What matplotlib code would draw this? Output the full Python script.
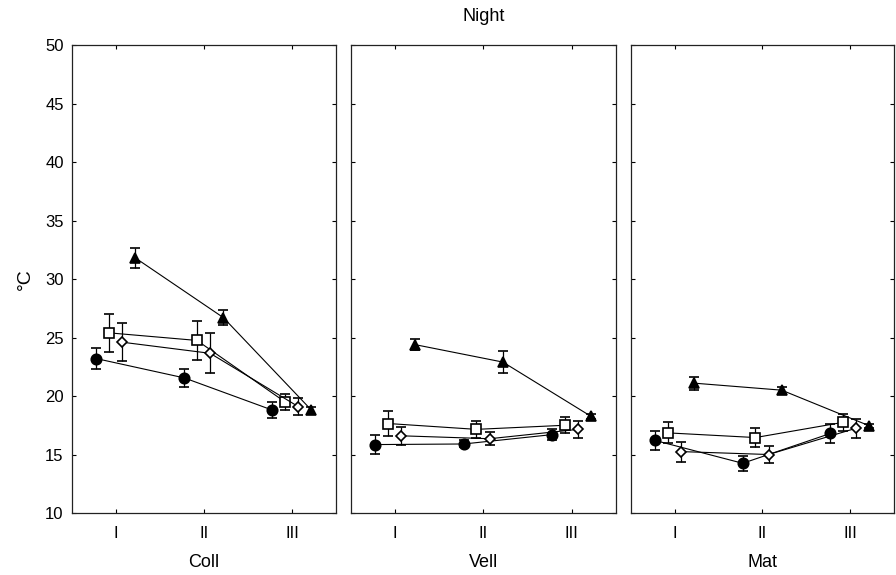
import numpy as np
import matplotlib
matplotlib.use('Agg')
import matplotlib.pyplot as plt

plt.rcParams['font.family'] = ['Liberation Sans', 'DejaVu Sans']

# sites (panels) and periods (x categories)
sites = ['Coll', 'Vell', 'Mat']
periods = ['I', 'II', 'III']

# mean temperature (°C) per series, one list per site
circle_mean = [[23.2, 21.55, 18.8], [15.85, 15.9, 16.7], [16.2, 14.25, 16.8]]
circle_err = [[0.9, 0.75, 0.65], [0.8, 0.3, 0.5], [0.85, 0.65, 0.8]]

square_mean = [[25.4, 24.75, 19.5], [17.65, 17.15, 17.5], [16.85, 16.45, 17.75]]
square_err = [[1.65, 1.7, 0.7], [1.05, 0.75, 0.7], [0.9, 0.85, 0.7]]

diamond_mean = [[24.6, 23.65, 19.1], [16.6, 16.35, 17.15], [15.25, 15.0, 17.25]]
diamond_err = [[1.6, 1.7, 0.75], [0.75, 0.55, 0.7], [0.85, 0.75, 0.8]]

triangle_mean = [[31.8, 26.7, 18.8], [24.4, 22.9, 18.25], [21.1, 20.5, 17.45]]
triangle_err = [[0.85, 0.65, 0.3], [0.45, 0.95, 0.25], [0.55, 0.3, 0.2]]

series = [
    (circle_mean, circle_err, 'o', 'black', 7.5, -0.225),
    (square_mean, square_err, 's', 'white', 7.0, -0.08),
    (diamond_mean, diamond_err, 'D', 'white', 5.5, 0.07),
    (triangle_mean, triangle_err, '^', 'black', 7.5, 0.22),
]

fig = plt.figure(figsize=(8.96, 5.75), dpi=100)
lefts = [0.0804, 0.3917, 0.7042]
widths = [0.2946, 0.2958, 0.2935]
bottom, height = 0.1078, 0.8139

x = np.arange(1, len(periods) + 1)
axes = []
for i, site in enumerate(sites):
    ax = fig.add_axes([lefts[i], bottom, widths[i], height])
    axes.append(ax)
    for mean, err, mk, fc, ms, off in series:
        ax.errorbar(x + off, mean[i], yerr=err[i], fmt='-', color='black',
                    lw=0.8, elinewidth=0.9, capsize=3.5, capthick=0.9,
                    marker=mk, markersize=ms, markerfacecolor=fc,
                    markeredgecolor='black', markeredgewidth=1.2)
    ax.set_xlim(0.5, 3.5)
    ax.set_ylim(10, 50)
    ax.set_xticks(x)
    ax.set_xticklabels(periods, fontsize=12)
    ax.set_yticks(np.arange(10, 51, 5))
    ax.tick_params(direction='in', length=3, width=0.8, top=True, right=True,
                   labelsize=12, pad=9)
    ax.tick_params(axis='y', pad=6)
    if i > 0:
        ax.set_yticklabels([])
    for s in ax.spines.values():
        s.set_linewidth(0.9)
        s.set_color('#222222')
    ax.set_xlabel(site, fontsize=13, labelpad=10)

axes[0].set_ylabel('°C', fontsize=14, labelpad=8)
axes[1].set_title('Night', fontsize=13, pad=17)

plt.savefig('out.png', dpi=100, facecolor='white')
plt.close()
